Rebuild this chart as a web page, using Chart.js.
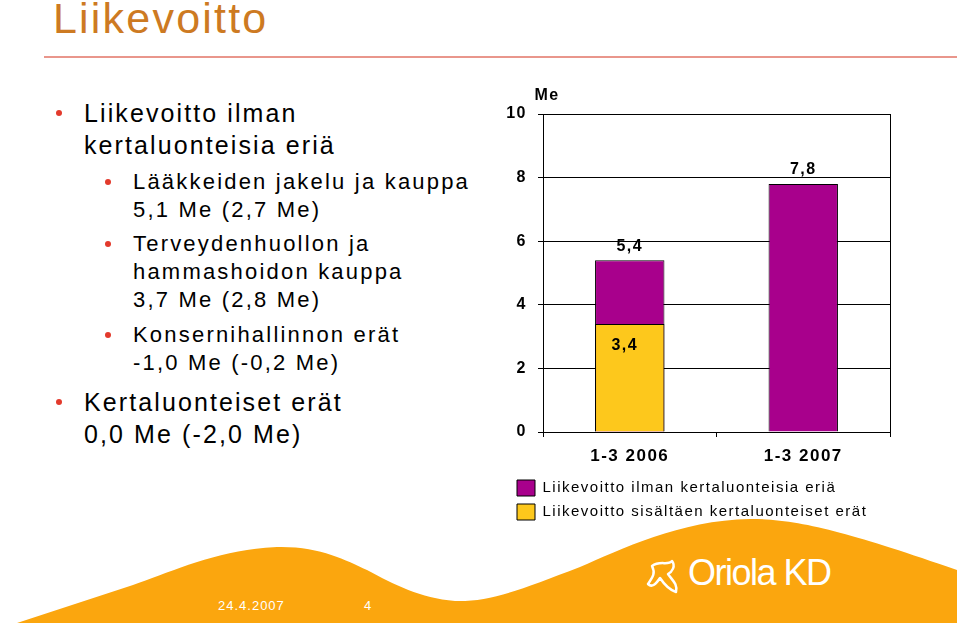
<!DOCTYPE html>
<html lang="fi">
<head>
<meta charset="utf-8">
<title>Liikevoitto</title>
<script src="https://cdn.jsdelivr.net/npm/chart.js@4.4.1/dist/chart.umd.min.js"></script>
<style>
    html, body { margin: 0; padding: 0; }
    body {
        width: 960px; height: 625px; position: relative; overflow: hidden;
        background: #fff; font-family: "Liberation Sans", Arial, sans-serif;
    }
    .title {
        position: absolute; left: 53px; top: -3px;
        font-size: 43px; line-height: 43px; letter-spacing: 2.2px; color: #cd7a22;
    }
    .rule { position: absolute; left: 44px; top: 56px; width: 913px; height: 2px; background: #e9968c; }
    .p { position: absolute; color: #000; white-space: nowrap; }
    .l1 { left: 84px; font-size: 25px; line-height: 32px; letter-spacing: 2.1px; }
    .l2 { left: 133px; font-size: 22px; line-height: 28px; letter-spacing: 2.2px; }
    .dot { position: absolute; width: 6px; height: 6px; border-radius: 50%; background: #e33a2c; }
    #chartBox { position: absolute; left: 495px; top: 80px; width: 410px; height: 450px; }
    .footer { position: absolute; left: 0; top: 0; }
    .foot-text { position: absolute; color: #fff; font-size: 13px; letter-spacing: 1px; }
    .logo {
        position: absolute; left: 688px; top: 553px; color: #fff;
        font-family: "Liberation Sans Narrow", "Liberation Sans", sans-serif;
        font-size: 36px; line-height: 40px; letter-spacing: -1.5px; font-weight: 300;
    }
</style>
</head>
<body>

<div class="title">Liikevoitto</div>
<div class="rule"></div>

<div class="dot" style="left:56px; top:110px;"></div>
<div class="p l1" style="top:97px;">Liikevoitto ilman<br>kertaluonteisia eriä</div>

<div class="dot" style="left:105px; top:179px;"></div>
<div class="p l2" style="top:168px;">Lääkkeiden jakelu ja kauppa<br>5,1 Me (2,7 Me)</div>

<div class="dot" style="left:105px; top:241px;"></div>
<div class="p l2" style="top:230px;">Terveydenhuollon ja<br>hammashoidon kauppa<br>3,7 Me (2,8 Me)</div>

<div class="dot" style="left:105px; top:332px;"></div>
<div class="p l2" style="top:321px;">Konsernihallinnon erät<br>-1,0 Me (-0,2 Me)</div>

<div class="dot" style="left:56px; top:399px;"></div>
<div class="p l1" style="top:386px;">Kertaluonteiset erät<br>0,0 Me (-2,0 Me)</div>

<svg class="footer" width="960" height="625">
    <path d="M17,623 L133,585 C170,572 220,549 277,547 C320,546 345,560 367,570
             C395,585 420,598 455,601 C490,602 520,590 580,567 C620,550 680,520 750,519
             C800,519 850,533 957,570 L957,623 Z" fill="#fba60e"/>
    <path d="M652,566 C660,560 668,566 672,561 C676,566 672,572 668,574 C672,580 678,584 676,592
             C670,590 664,584 660,578 C656,584 652,588 648,584 C652,578 656,574 652,566 Z"
          fill="none" stroke="#fff" stroke-width="2.5" stroke-linejoin="round"/>
</svg>
<div class="foot-text" style="left:218px; top:598px;">24.4.2007</div>
<div class="foot-text" style="left:364px; top:598px;">4</div>
<div class="logo">Oriola KD</div>

<div id="chartBox"><canvas id="chart"></canvas></div>

<script>
const categories = ["1-3 2006", "1-3 2007"];
const seriesNames = [
    "Liikevoitto ilman kertaluonteisia eriä",
    "Liikevoitto sisältäen kertaluonteiset erät"
];
const withoutOneOffs = [5.4, 7.8];
const includingOneOffs = [3.4, null];
const yMin = 0;
const yMax = 10;
const yStep = 2;
const unitLabel = "Me";

const PURPLE = "#a8008c";
const YELLOW = "#fdc81c";
const FONT = "'Liberation Sans', Arial, sans-serif";

const fmt = v => String(v.toFixed(1)).replace(".", ",");

// letter spacing like the slide text; canvas resets it on resize
const spacing = {
    id: "spacing",
    beforeUpdate(chart) { chart.ctx.letterSpacing = "1.5px"; },
    beforeDraw(chart) { chart.ctx.letterSpacing = "1.5px"; }
};

const legendShift = {
    id: "legendShift",
    afterLayout(chart) { chart.legend.left += 14; }
};

const frameAndLabels = {
    id: "frameAndLabels",
    afterDraw(chart) {
        const { ctx, chartArea } = chart;
        ctx.save();
        ctx.strokeStyle = "#000";
        ctx.lineWidth = 1;
        ctx.beginPath();
        ctx.moveTo(Math.round(chartArea.right) + 0.5, chartArea.top);
        ctx.lineTo(Math.round(chartArea.right) + 0.5, chartArea.bottom);
        ctx.stroke();

        ctx.fillStyle = "#000";
        ctx.font = "bold 16px " + FONT;
        ctx.textAlign = "center";
        ctx.textBaseline = "middle";
        ctx.fillText(unitLabel, chartArea.left + 4, chartArea.top - 18);

        const top = chart.getDatasetMeta(0);
        top.data.forEach((bar, i) => {
            if (withoutOneOffs[i] == null) return;
            ctx.fillText(fmt(withoutOneOffs[i]), bar.x, bar.y - 14);
        });
        const low = chart.getDatasetMeta(1);
        low.data.forEach((bar, i) => {
            if (includingOneOffs[i] == null) return;
            ctx.fillText(fmt(includingOneOffs[i]), bar.x - 5, bar.y + 22);
        });
        ctx.restore();
    }
};

new Chart(document.getElementById("chart"), {
    type: "bar",
    data: {
        labels: categories,
        datasets: [
            {
                label: seriesNames[0],
                data: withoutOneOffs,
                backgroundColor: PURPLE,
                borderColor: "#000",
                borderWidth: 1,
                order: 2
            },
            {
                label: seriesNames[1],
                data: includingOneOffs,
                backgroundColor: YELLOW,
                borderColor: "#000",
                borderWidth: 1,
                order: 1
            }
        ]
    },
    options: {
        responsive: true,
        maintainAspectRatio: false,
        animation: false,
        grouped: false,
        categoryPercentage: 1,
        barPercentage: 0.4,
        layout: { padding: { top: 34, right: 15, bottom: 0, left: 0 } },
        plugins: {
            tooltip: { enabled: false },
            legend: {
                position: "bottom",
                align: "start",
                labels: {
                    color: "#000",
                    font: { family: FONT, size: 15 },
                    boxWidth: 18,
                    boxHeight: 16,
                    padding: 8,
                    sort: (a, b) => a.datasetIndex - b.datasetIndex
                }
            }
        },
        scales: {
            x: {
                grid: { drawOnChartArea: false, color: "#000", tickLength: 5 },
                border: { color: "#000" },
                ticks: {
                    color: "#000",
                    font: { family: FONT, size: 17, weight: "bold" },
                    padding: 9
                },
                afterFit: s => { s.height = 40; }
            },
            y: {
                min: yMin,
                max: yMax,
                ticks: {
                    stepSize: yStep,
                    color: "#000",
                    font: { family: FONT, size: 16, weight: "bold" },
                    padding: 11
                },
                grid: { color: "#000", tickLength: 5 },
                border: { color: "#000" },
                afterFit: s => { s.width = 48; }
            }
        }
    },
    plugins: [spacing, legendShift, frameAndLabels]
});
</script>
</body>
</html>
